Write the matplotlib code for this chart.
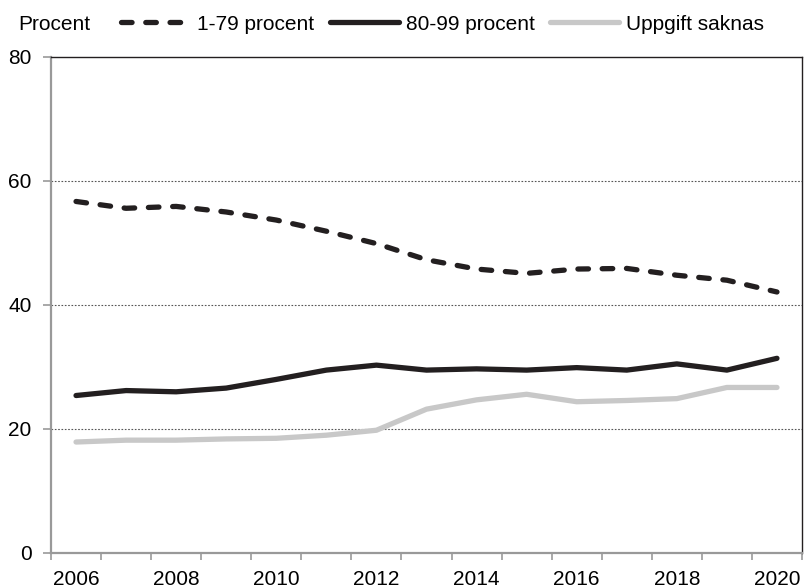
import matplotlib
matplotlib.use("Agg")
import matplotlib.pyplot as plt
from matplotlib.lines import Line2D
import numpy as np

years = list(range(2006, 2021))
s_1_79 = [56.7, 55.6, 55.9, 55.0, 53.7, 51.9, 49.9, 47.3, 45.8, 45.1, 45.8, 45.9, 44.8, 44.0, 42.1]
s_80_99 = [25.4, 26.2, 26.0, 26.6, 28.0, 29.5, 30.3, 29.5, 29.7, 29.5, 29.9, 29.5, 30.5, 29.5, 31.4]
s_missing = [17.9, 18.2, 18.2, 18.4, 18.5, 19.0, 19.8, 23.2, 24.7, 25.6, 24.4, 24.6, 24.9, 26.7, 26.7]
labels = ["1-79 procent", "80-99 procent", "Uppgift saknas"]
yticks = [0, 20, 40, 60, 80]

plt.rcParams['font.family'] = ['Liberation Sans', 'DejaVu Sans']

W, H = 805, 588
fig = plt.figure(figsize=(W / 100, H / 100), dpi=100)
ax = fig.add_axes([51 / W, (H - 553) / H, (802 - 51) / W, (553 - 57) / H])

x = np.arange(len(years))
dark = '#231f20'
grey = '#c8c8c8'
lw = 3.8
dash = (2.0, 2.6)
ax.plot(x, s_1_79, color=dark, lw=lw, dashes=dash, dash_capstyle='round', solid_capstyle='round', zorder=3)
ax.plot(x, s_80_99, color=dark, lw=lw, solid_capstyle='round', zorder=3)
ax.plot(x, s_missing, color=grey, lw=lw, solid_capstyle='round', zorder=3)

ax.set_xlim(-0.5, len(years) - 0.5)
ax.set_ylim(0, 80)
ax.set_yticks(yticks)
ax.set_yticklabels([str(v) for v in yticks], fontsize=15)
ax.set_xticks(np.arange(-0.5, len(years), 1.0))
ax.set_xticklabels([])
ax.set_xticks(x[::2], minor=True)
ax.set_xticklabels([str(y) for y in years[::2]], minor=True, fontsize=15)
ax.tick_params(axis='x', which='minor', length=0, pad=12)
ax.tick_params(axis='x', which='major', length=5, color='#999999', direction='out', width=1.2)
ax.tick_params(axis='y', length=6, color='#999999', direction='out', width=1.2, pad=8)

for gy in [20, 40, 60]:
    ax.axhline(gy, color='#555555', lw=0.8, ls=(0, (1.5, 1.5)), zorder=1)

for sp in ['top', 'right']:
    ax.spines[sp].set_color(dark)
    ax.spines[sp].set_linewidth(1.0)
for sp in ['left', 'bottom']:
    ax.spines[sp].set_color('#999999')
    ax.spines[sp].set_linewidth(1.6)

fig.text(18 / W, 1 - 24 / H, "Procent", fontsize=15, va='center', ha='left')
handles = [
    Line2D([], [], color=dark, lw=lw, dashes=dash, dash_capstyle='round'),
    Line2D([], [], color=dark, lw=lw, solid_capstyle='round'),
    Line2D([], [], color=grey, lw=lw, solid_capstyle='round'),
]
fig.legend(handles, labels, loc='center left', bbox_to_anchor=(121 / W, 1 - 24 / H), ncol=3,
           frameon=False, fontsize=15, handlelength=3.3, handletextpad=0.35, columnspacing=0.75,
           borderaxespad=0, borderpad=0)

fig.savefig("out.png", dpi=100)
